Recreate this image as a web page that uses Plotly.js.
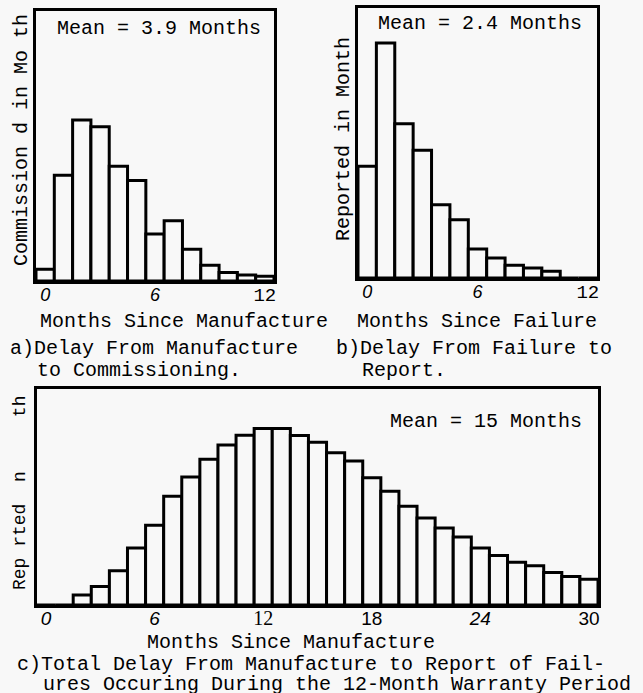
<!DOCTYPE html>
<html><head><meta charset="utf-8">
<script src="https://cdn.plot.ly/plotly-3.0.1.min.js"></script>
<style>html,body{margin:0;padding:0;background:#f8f8f8;}#chart{width:643px;height:693px;}</style>
</head><body><div id="chart"></div>
<script>
// ---- data ----
const monthsA = [0,1,2,3,4,5,6,7,8,9,10,11,12];
const commissionedA = [3.5,31.5,48,46,34.2,30,14,18,9.5,4.7,2.5,1.8,1.4];
const monthsB = [0,1,2,3,4,5,6,7,8,9,10,11,12];
const reportedB = [33.5,70.5,46.3,38.3,22,17.5,8.7,6,3.8,3,2,0,0];
const monthsC = [0,1,2,3,4,5,6,7,8,9,10,11,12,13,14,15,16,17,18,19,20,21,22,23,24,25,26,27,28,29,30];
const reportedC = [0,0,3.0,5.5,10.2,17,23.8,32.5,38.2,43.5,47.8,50.7,52.7,52.7,50.6,48.6,45.5,43,38,34,29.5,26,23,20.3,17,14.8,12.8,11.7,9.7,8.5,7.7];
const tickValsAB = [0,6,12];
const tickTextA = ['0','6','12'];
const tickTextB = ['0','6','12'];
const tickValsC = [0,6,12,18,24,30];
const tickTextC = ['0','6','12','18','24','30'];
const meanTextA = 'Mean = 3.9 Months';
const meanTextB = 'Mean = 2.4 Months';
const meanTextC = 'Mean = 15 Months';
const yTitleA = 'Commission d in Mo th';
const yTitleB = 'Reported in Month';
const yTitleC = 'Rep rted  n     th';
const xTitleA = 'Months Since Manufacture';
const xTitleB = 'Months Since Failure';
const xTitleC = 'Months Since Manufacture';
const captionA = ['a)Delay From Manufacture', 'to Commissioning.'];
const captionB = ['b)Delay From Failure to', 'Report.'];
const captionC = ['c)Total Delay From Manufacture to Report of Fail-', 'ures Occuring During the 12-Month Warranty Period'];
const topText = 'received.';

// ---- helpers ----
const W = 643, H = 693;
const px = v => v / W;
const py = v => 1 - v / H;
const BG = '#f8f8f8';
const MONO = 'Liberation Mono, Courier New, monospace';
const SANS = 'Liberation Sans, Arial, sans-serif';

function styleTicks(texts, styles) {
  return texts.map((t, i) => {
    const s = styles[i];
    let inner = '<span style="font-family:' + s.f + ';font-size:' + s.s + 'px">' + t + '</span>';
    if (s.i) inner = '<i>' + inner + '</i>';
    return inner;
  });
}
const stA = [{f:'Liberation Sans', s:18, i:true},{f:'Liberation Sans', s:18, i:true},{f:'Liberation Mono', s:19}];
const stC = [{f:'Liberation Sans', s:19, i:true},{f:'Liberation Sans', s:19, i:true},{f:'Liberation Serif', s:20},{f:'Liberation Sans', s:19},{f:'Liberation Sans', s:19, i:true},{f:'Liberation Sans', s:19}];

const barStyle = {color: BG, line: {color: '#000', width: 3}};
const traces = [
  {type:'bar', x: monthsA, y: commissionedA, width: 1, marker: barStyle, xaxis:'x', yaxis:'y', hoverinfo:'skip'},
  {type:'bar', x: monthsB, y: reportedB, width: 1, marker: barStyle, xaxis:'x2', yaxis:'y2', hoverinfo:'skip'},
  {type:'bar', x: monthsC, y: reportedC, width: 1, marker: barStyle, xaxis:'x3', yaxis:'y3', hoverinfo:'skip'}
];

function xAx(dom, range, anchor, tv, tt) {
  return {domain: dom, range: range, anchor: anchor, showline: true, mirror: true, linewidth: 3, linecolor: '#000',
    showgrid: false, zeroline: false, ticks: '', tickvals: tv, ticktext: tt, tickfont: {family: SANS, size: 18, color: '#000'},
    ticklabelstandoff: -5, fixedrange: true};
}
function yAx(dom, range, anchor) {
  return {domain: dom, range: range, anchor: anchor, showline: true, mirror: true, linewidth: 3, linecolor: '#000',
    showgrid: false, zeroline: false, showticklabels: false, ticks: '', fixedrange: true};
}

function ann(text, x, y, opts) {
  return Object.assign({text: text, x: px(x), y: py(y), xref: 'paper', yref: 'paper', showarrow: false,
    xanchor: 'left', yanchor: 'middle', font: {family: MONO, size: 20, color: '#000'}}, opts || {});
}

const annotations = [
  ann(topText, 10, -6, {font: {family: MONO, size: 22, color: '#000'}}),
  ann(meanTextA, 55, 28),
  ann(meanTextB, 376, 23),
  ann(meanTextC, 388, 421),
  ann(yTitleA, 22, 140, {textangle: -90, xanchor: 'center'}),
  ann(yTitleB, 343, 139, {textangle: -90, xanchor: 'center'}),
  ann(yTitleC, 20, 493, {textangle: -90, xanchor: 'center', font: {family: MONO, size: 18, color: '#000'}}),
  ann(xTitleA, 38, 321),
  ann(xTitleB, 355, 321),
  ann(captionA[0], 8, 348),
  ann(captionA[1], 35, 370),
  ann(captionB[0], 334, 348),
  ann(captionB[1], 360, 370),
  ann(xTitleC, 145, 642),
  ann(captionC[0], 15, 664),
  ann(captionC[1], 41, 684)
];

const layout = {
  width: W, height: H, margin: {l:0, r:0, t:0, b:0}, autosize: false,
  paper_bgcolor: BG, plot_bgcolor: BG, showlegend: false, bargap: 0,
  font: {family: MONO, color: '#000'},
  xaxis: xAx([px(36), px(274)], [-0.5, 12.5], 'y', tickValsAB, styleTicks(tickTextA, stA)),
  yaxis: yAx([py(281), py(11)], [0, 80.5], 'x'),
  xaxis2: xAx([px(358), px(597)], [-0.5, 12.5], 'y2', tickValsAB, styleTicks(tickTextB, stA)),
  yaxis2: yAx([py(278), py(8)], [0, 81], 'x2'),
  xaxis3: xAx([px(37), px(598)], [-0.5, 30.5], 'y3', tickValsC, styleTicks(tickTextC, stC)),
  yaxis3: yAx([py(605), py(389)], [0, 64.5], 'x3'),
  annotations: annotations
};

Plotly.newPlot('chart', traces, layout, {staticPlot: true, displayModeBar: false});
</script>
</body></html>
